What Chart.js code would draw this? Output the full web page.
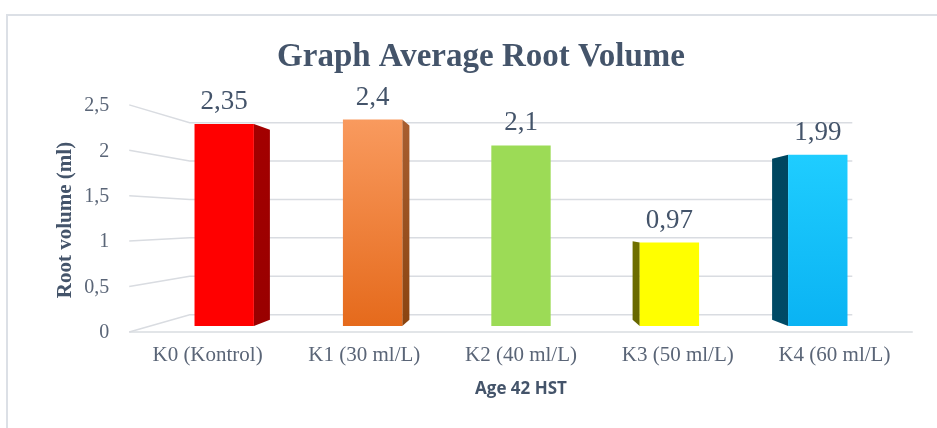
<!DOCTYPE html>
<html>
<head>
<meta charset="utf-8">
<script src="https://cdn.jsdelivr.net/npm/chart.js@4/dist/chart.umd.min.js"></script>
<style>
  html, body { margin: 0; padding: 0; background: #ffffff; }
  #wrap { width: 937px; height: 428px; position: relative; }
  canvas { display: block; }
</style>
</head>
<body>
<div id="wrap"><canvas id="c" width="937" height="428"></canvas></div>
<script>
// ---------- data ----------
const chartTitle = 'Graph Average Root Volume';
const yAxisTitle = 'Root volume (ml)';
const xAxisTitle = 'Age 42 HST';
const categories = ['K0 (Kontrol)', 'K1 (30 ml/L)', 'K2 (40 ml/L)', 'K3 (50 ml/L)', 'K4 (60 ml/L)'];
const rootVolume = [2.35, 2.4, 2.1, 0.97, 1.99];
const yTickValues = [0, 0.5, 1, 1.5, 2, 2.5];
const yTickLabels = ['0', '0,5', '1', '1,5', '2', '2,5'];

// ---------- styles ----------
const frontTop = ['#FF0000', '#F99A5E', '#9CDB56', '#FFFF00', '#1FCDFF'];
const frontBottom = ['#FF0000', '#E56A1C', '#9CDB56', '#FFFF00', '#0AB3F3'];
const sideTop = ['#A30000', '#A85E30', '#6E9A3C', '#707000', '#00465F'];
const sideBottom = ['#990000', '#8A4410', '#6E9A3C', '#666600', '#004A66'];
const textColor = '#44546A';
const tickColor = '#5A6577';
const gridColor = '#D9DCE1';

// perspective factors (front plane, back wall, bar back faces)
const K_FRONT = 1.056, K_BACK = 0.893, K_BAR = 0.94;

function fmt(v) { return String(v).replace('.', ','); }

function vp(chart) {
  const a = chart.chartArea;
  return { cx: (a.left + a.right) / 2, cy: a.top + 0.507 * (a.bottom - a.top) };
}
function proj(p, k, x, y) { return [p.cx + k * (x - p.cx), p.cy + k * (y - p.cy)]; }

function grad(ctx, top, bottom, c1, c2) {
  const g = ctx.createLinearGradient(0, top, 0, bottom);
  g.addColorStop(0, c1); g.addColorStop(1, c2);
  return g;
}

const perspectivePlugin = {
  id: 'perspective',
  beforeDraw(chart) {
    const ctx = chart.ctx;
    ctx.save();
    ctx.fillStyle = '#ffffff';
    ctx.fillRect(0, 0, chart.width, chart.height);
    ctx.strokeStyle = '#DCE0E6';
    ctx.lineWidth = 2;
    ctx.beginPath();
    ctx.moveTo(7, chart.height + 2);
    ctx.lineTo(7, 15);
    ctx.lineTo(chart.width + 2, 15);
    ctx.stroke();
    ctx.restore();
  },
  beforeDatasetsDraw(chart) {
    const ctx = chart.ctx, a = chart.chartArea, ys = chart.scales.y, p = vp(chart);
    ctx.save();
    ctx.strokeStyle = gridColor;
    ctx.lineWidth = 1.5;
    yTickValues.forEach(v => {
      const y = ys.getPixelForValue(v);
      const f = proj(p, K_FRONT, a.left, y);
      const b1 = proj(p, K_BACK, a.left, y);
      const b2 = proj(p, K_BACK, a.right, y);
      ctx.beginPath();
      ctx.moveTo(f[0], f[1]); ctx.lineTo(b1[0], b1[1]); ctx.lineTo(b2[0], b2[1]);
      ctx.stroke();
      if (v === 0) {
        const fr = proj(p, K_FRONT, a.right, y);
        ctx.beginPath();
        ctx.moveTo(f[0], f[1]); ctx.lineTo(fr[0], fr[1]);
        ctx.stroke();
      }
    });
    // side faces of the bars
    const meta = chart.getDatasetMeta(0);
    meta.data.forEach((bar, i) => {
      const w = bar.width, left = bar.x - w / 2, right = bar.x + w / 2;
      let edge = null;
      if (right < p.cx) edge = right; else if (left > p.cx) edge = left;
      if (edge === null) return;
      const t = proj(p, K_BAR, edge, bar.y);
      const b = proj(p, K_BAR, edge, bar.base);
      ctx.fillStyle = grad(ctx, bar.y, bar.base, sideTop[i], sideBottom[i]);
      ctx.beginPath();
      ctx.moveTo(edge, bar.y); ctx.lineTo(t[0], t[1]); ctx.lineTo(b[0], b[1]); ctx.lineTo(edge, bar.base);
      ctx.closePath();
      ctx.fill();
    });
    ctx.restore();
  },
  afterDatasetsDraw(chart) {
    const ctx = chart.ctx, a = chart.chartArea, ys = chart.scales.y, p = vp(chart);
    const meta = chart.getDatasetMeta(0);
    ctx.save();
    // data labels
    ctx.fillStyle = textColor;
    ctx.font = '27px "Liberation Serif", serif';
    ctx.textAlign = 'center';
    ctx.textBaseline = 'alphabetic';
    meta.data.forEach((bar, i) => {
      ctx.fillText(fmt(rootVolume[i]), bar.x, bar.y - 15);
    });
    // y tick labels
    ctx.fillStyle = tickColor;
    ctx.font = '20px "Liberation Serif", serif';
    ctx.textAlign = 'right';
    ctx.textBaseline = 'middle';
    yTickValues.forEach((v, i) => {
      const f = proj(p, K_FRONT, a.left, ys.getPixelForValue(v));
      ctx.fillText(yTickLabels[i], f[0] - 20, f[1] + 1);
    });
    // category labels
    ctx.textAlign = 'center';
    ctx.font = '21px "Liberation Serif", serif';
    meta.data.forEach((bar, i) => {
      const f = proj(p, K_FRONT, bar.x, bar.base);
      ctx.fillText(categories[i], f[0], f[1] + 24);
    });
    // x axis title
    ctx.fillStyle = textColor;
    ctx.font = 'bold 17px "Open Sans", sans-serif';
    ctx.fillText(xAxisTitle, p.cx, a.bottom + 63);
    // y axis title
    ctx.save();
    ctx.translate(66, p.cy);
    ctx.rotate(-Math.PI / 2);
    ctx.font = 'bold 21px "Liberation Serif", serif';
    ctx.fillText(yAxisTitle, 0, 0);
    ctx.restore();
    // chart title
    ctx.font = 'bold 33px "Liberation Serif", serif';
    ctx.textBaseline = 'alphabetic';
    ctx.fillText(chartTitle, 481, 66);
    ctx.restore();
  }
};

new Chart(document.getElementById('c'), {
  type: 'bar',
  data: {
    labels: categories,
    datasets: [{
      data: rootVolume,
      backgroundColor: (c) => {
        const ch = c.chart, i = c.dataIndex;
        if (!ch.chartArea) return frontTop[i];
        const bar = ch.getDatasetMeta(0).data[i];
        if (!bar) return frontTop[i];
        return grad(ch.ctx, ch.scales.y.getPixelForValue(rootVolume[i]), ch.scales.y.getPixelForValue(0), frontTop[i], frontBottom[i]);
      },
      borderWidth: 0,
      barPercentage: 0.4,
      categoryPercentage: 1
    }]
  },
  options: {
    responsive: false,
    maintainAspectRatio: false,
    animation: false,
    layout: { padding: { left: 150, right: 45, top: 111, bottom: 102 } },
    plugins: { legend: { display: false }, tooltip: { enabled: false }, title: { display: false } },
    scales: {
      x: { display: false },
      y: { display: false, min: 0, max: 2.5 }
    }
  },
  plugins: [perspectivePlugin]
});
</script>
</body>
</html>
